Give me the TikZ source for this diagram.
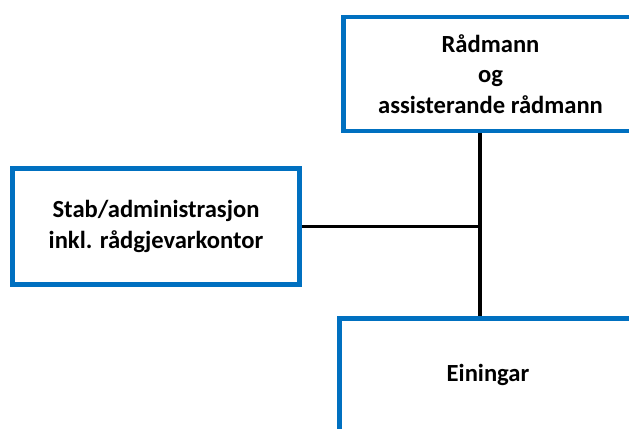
\documentclass[tikz,border=0pt]{standalone}
\usepackage{fontspec}
\setmainfont{Carlito}
\usetikzlibrary{positioning}
\definecolor{orgblue}{RGB}{0,112,192}

\begin{document}
\begin{tikzpicture}[
			x=0.03cm, y=-0.03cm,
			every node/.style={align=center, font=\fontsize{21}{26}\selectfont\bfseries},
			orgbox/.style={rectangle, draw=orgblue, line width=4.2pt, fill=white, inner sep=0pt},
			link/.style={draw=black, line width=3.4pt}
			]
			% Frame
			\clip (0,0) rectangle (629,429);
			\fill[white] (0,0) rectangle (629,429);
			
			% Boxes
			\node[orgbox, minimum width=8.82cm, minimum height=3.42cm] (radmann) at (490.5,74) {R\r{a}dmann\\og\\assisterande r\r{a}dmann};
			\node[orgbox, minimum width=8.61cm, minimum height=3.48cm] (stab) at (156,226.5) {Stab/administrasjon\\inkl. r\r{a}dgjevarkontor};
			\node[orgbox, minimum width=8.93cm, minimum height=3.39cm] (einingar) at (488,375) {Einingar};
			
			% Lines
			\coordinate (jn) at (480,226.5);
			\draw[link] (radmann.south -| jn) -- (einingar.north -| jn);
			\draw[link] (stab.east) -- (jn);
		\end{tikzpicture}
\end{document}
